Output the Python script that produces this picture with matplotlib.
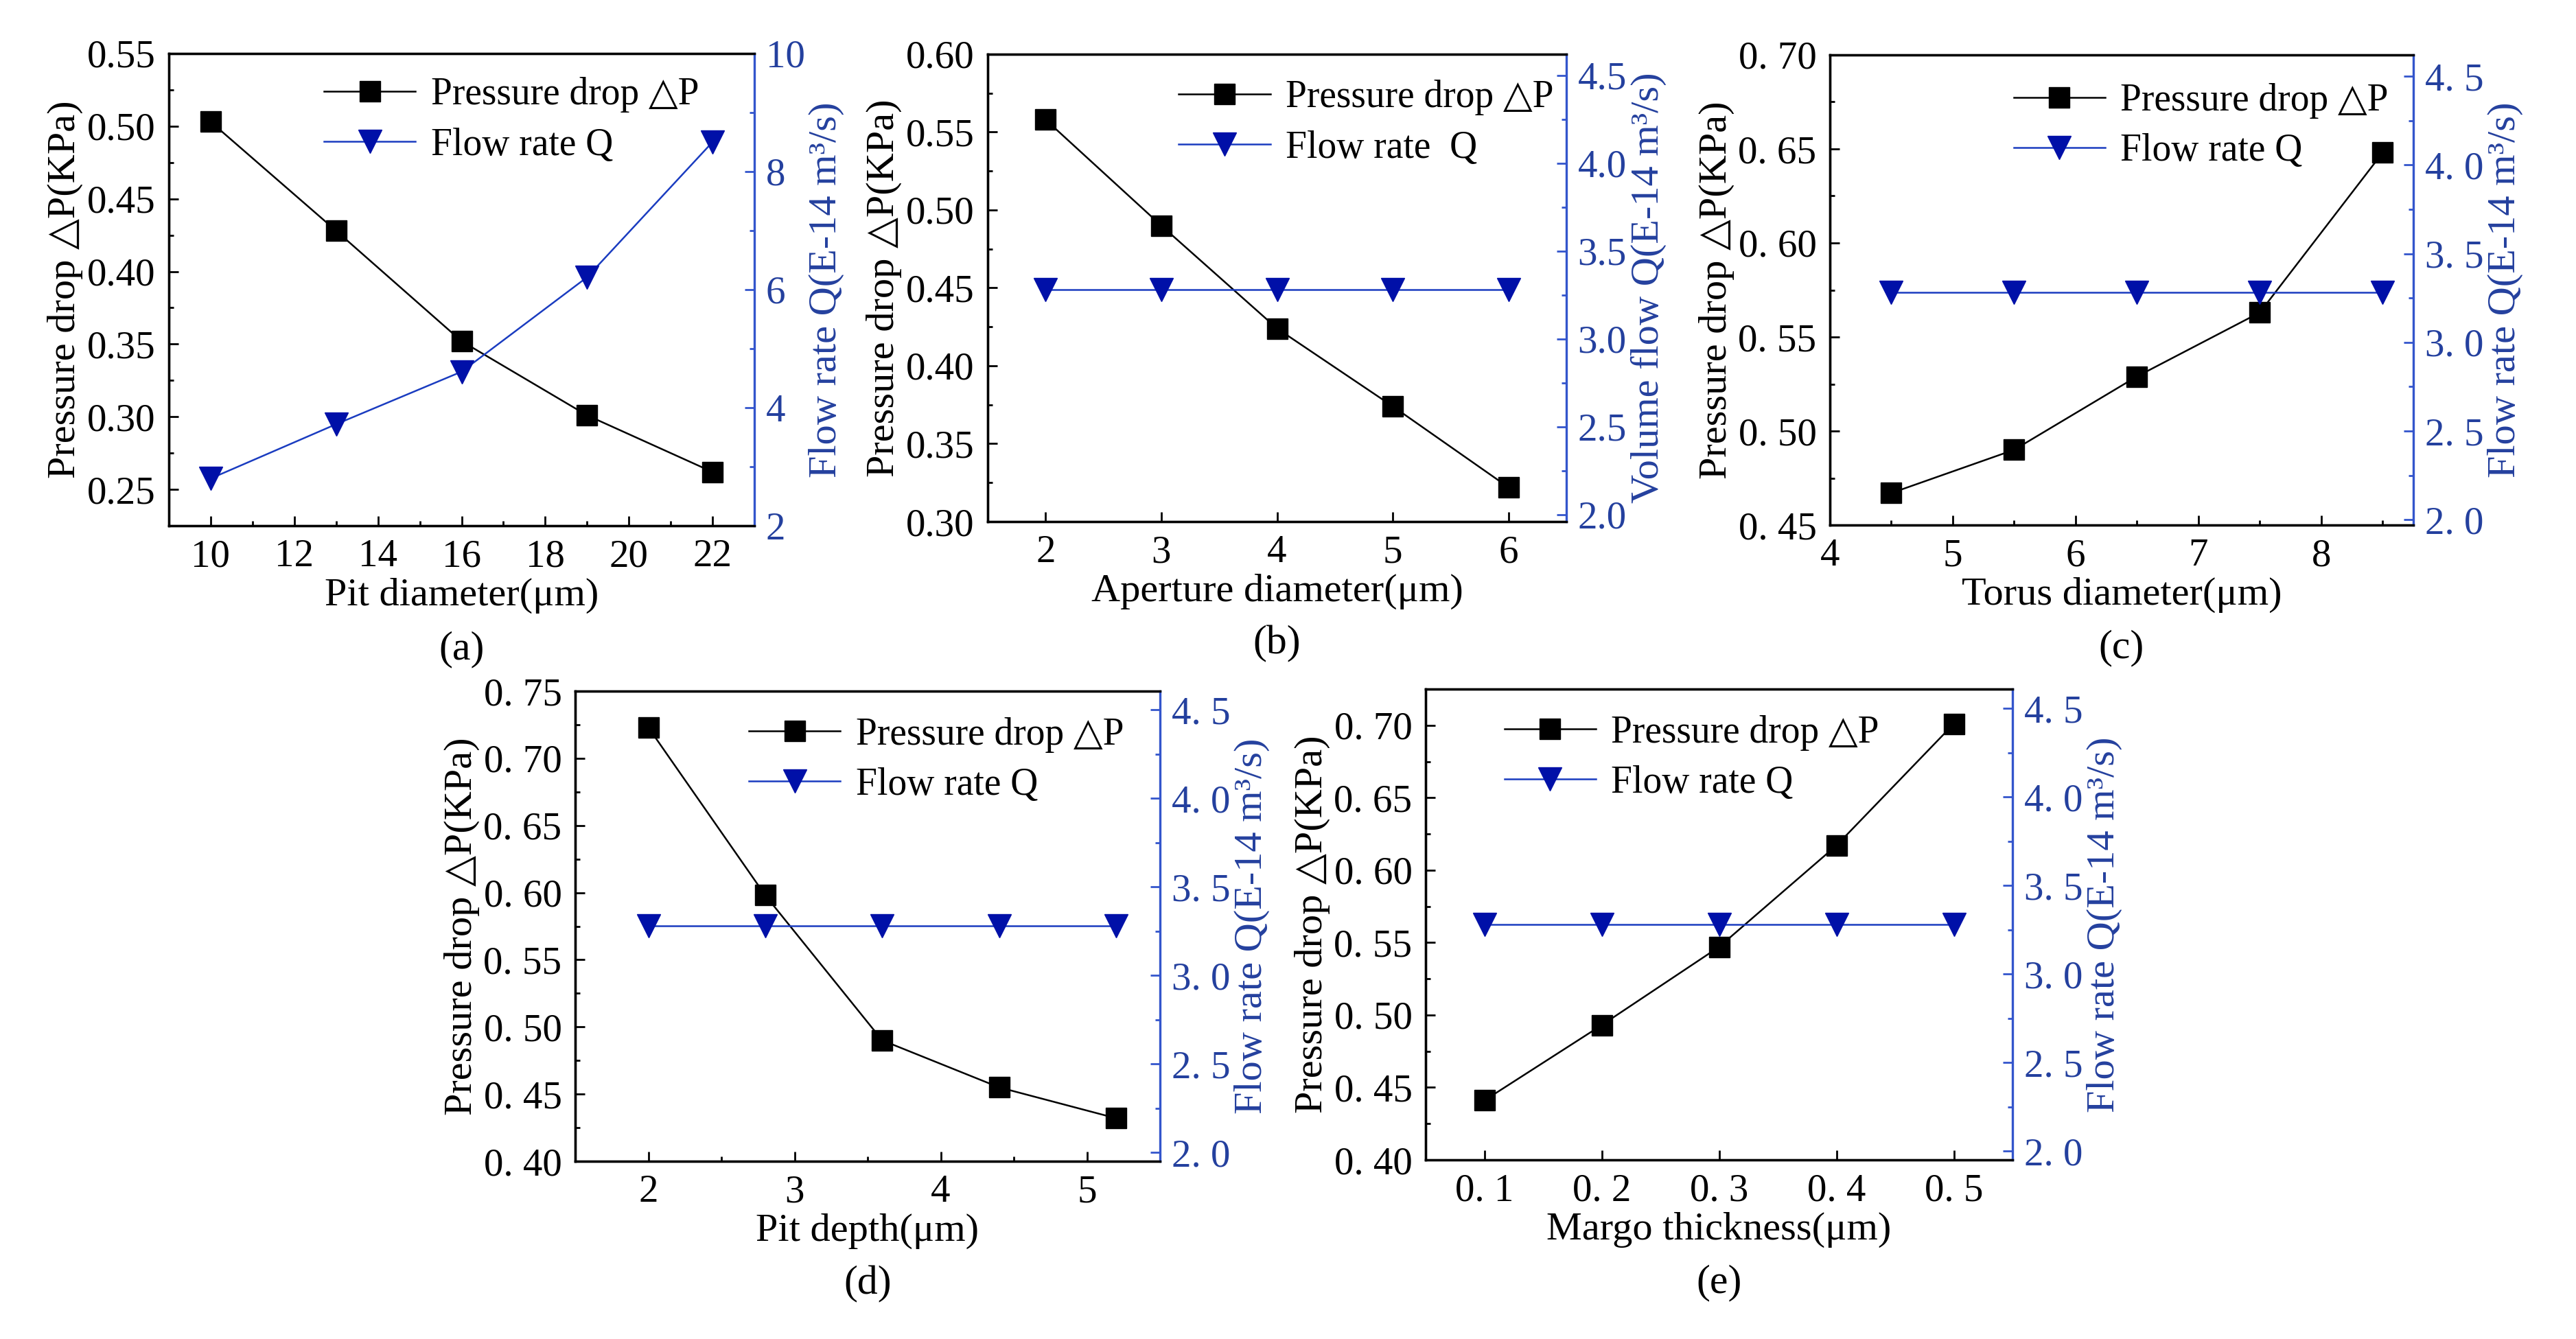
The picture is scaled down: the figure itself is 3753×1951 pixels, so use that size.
import matplotlib as mpl
mpl.use('Agg')
import matplotlib.pyplot as plt
from matplotlib.ticker import MultipleLocator, FuncFormatter

plt.rcParams['font.family'] = ['Liberation Serif', 'DejaVu Sans']
plt.rcParams['font.size'] = 41
plt.rcParams['axes.linewidth'] = 2.4

# (a) pit diameter
pit_diameter = [10, 13, 16, 19, 22]
dp_pit_diameter = [0.503, 0.428, 0.352, 0.301, 0.262]
q_pit_diameter = [2.80, 3.72, 4.61, 6.21, 8.50]
# (b) aperture diameter
aperture_diameter = [2, 3, 4, 5, 6]
dp_aperture = [0.558, 0.490, 0.424, 0.374, 0.322]
q_aperture = [3.28, 3.28, 3.28, 3.28, 3.28]
# (c) torus diameter
torus_diameter = [4.5, 5.5, 6.5, 7.5, 8.5]
dp_torus = [0.467, 0.490, 0.529, 0.563, 0.648]
q_torus = [3.28, 3.28, 3.28, 3.28, 3.28]
# (d) pit depth
pit_depth = [2.0, 2.8, 3.6, 4.4, 5.2]
dp_pit_depth = [0.723, 0.598, 0.490, 0.455, 0.432]
q_pit_depth = [3.28, 3.28, 3.28, 3.28, 3.28]
# (e) margo thickness
margo_thickness = [0.1, 0.2, 0.3, 0.4, 0.5]
dp_margo = [0.441, 0.493, 0.547, 0.617, 0.701]
q_margo = [3.28, 3.28, 3.28, 3.28, 3.28]

BLUE_LINE = '#1a3cc0'
BLUE_MARK = '#0010a8'
BLUE_AXIS = '#3355cc'
BLUE_TEXT = '#24409e'


def fmt(f, spaced=False):
    if spaced:
        return FuncFormatter(lambda v, p: (f % v).replace('.', '. '))
    return FuncFormatter(lambda v, p: f % v)


def draw_panel(fig, rect, x, dp, q, xlabel, qlabel, tag, xlim, xmaj, xmin,
               ylim, ymaj, ymin, qlim, qmaj, qmin, xf, yf, qf, spaced,
               leg_anchor, q_legend='Flow rate Q'):
    ax = fig.add_axes(rect)
    ax2 = ax.twinx()
    l1, = ax.plot(x, dp, color='black', lw=1.8, marker='s', ms=21,
                  label='Pressure drop △P')
    l2, = ax2.plot(x, q, color=BLUE_LINE, lw=1.8, marker='v', ms=24,
                   mfc=BLUE_MARK, mec=BLUE_MARK, label=q_legend)
    ax.set_xlim(xlim)
    ax.set_ylim(ylim)
    ax2.set_ylim(qlim)
    ax.xaxis.set_major_locator(MultipleLocator(xmaj))
    if xmin:
        ax.xaxis.set_minor_locator(MultipleLocator(xmin))
    ax.yaxis.set_major_locator(MultipleLocator(ymaj))
    ax.yaxis.set_minor_locator(MultipleLocator(ymin))
    ax2.yaxis.set_major_locator(MultipleLocator(qmaj))
    ax2.yaxis.set_minor_locator(MultipleLocator(qmin))
    ax.xaxis.set_major_formatter(fmt(xf, spaced and xf != '%d'))
    ax.yaxis.set_major_formatter(fmt(yf, spaced))
    ax2.yaxis.set_major_formatter(fmt(qf, spaced))

    ax.tick_params(which='both', direction='in', top=False, right=False, width=2)
    ax.tick_params(which='major', length=10, pad=14)
    ax.tick_params(which='minor', length=5)
    ax2.tick_params(which='both', direction='in', colors=BLUE_AXIS, width=2,
                    labelcolor=BLUE_TEXT)
    ax2.tick_params(which='major', length=10, pad=12)
    ax2.tick_params(which='minor', length=5)
    ax.spines['right'].set_visible(False)
    ax2.spines['right'].set_color(BLUE_AXIS)
    ax2.spines['right'].set_linewidth(2.4)

    ax.set_xlabel(xlabel, labelpad=3, fontsize=42)
    ax.set_ylabel('Pressure drop △P(KPa)', labelpad=4, fontsize=42)
    ax2.set_ylabel(qlabel, color=BLUE_TEXT, labelpad=4, fontsize=42)

    ax.legend([l1, l2], [l1.get_label(), l2.get_label()], frameon=False,
              loc='upper left', bbox_to_anchor=leg_anchor, borderpad=0,
              borderaxespad=0, handlelength=2.4, handletextpad=0.4,
              labelspacing=0.38, numpoints=1, fontsize=40)
    ax.text(0.5, -0.262, tag, transform=ax.transAxes, ha='center', va='center',
            fontsize=43)
    return ax


fig = plt.figure(figsize=(37.53, 19.51), dpi=100)
W, H = 3753.0, 1951.0


def rect(left, right, top, bottom):
    return [left / W, 1 - bottom / H, (right - left) / W, (bottom - top) / H]


draw_panel(fig, rect(246, 1099, 78, 766), pit_diameter, dp_pit_diameter,
           q_pit_diameter, 'Pit diameter(μm)', 'Flow rate Q(E-14 m³/s)', '(a)',
           (9, 23), 2, 1, (0.225, 0.55), 0.05, 0.025, (2, 10), 2, 1,
           '%d', '%.2f', '%d', False, (0.265, 0.95))

draw_panel(fig, rect(1439, 2282, 79, 760), aperture_diameter, dp_aperture,
           q_aperture, 'Aperture diameter(μm)', 'Volume flow Q(E-14 m³/s)', '(b)',
           (1.5, 6.5), 1, None, (0.30, 0.60), 0.05, 0.025, (1.96, 4.62), 0.5, 0.25,
           '%d', '%.2f', '%.1f', False, (0.33, 0.945), q_legend='Flow rate  Q')

draw_panel(fig, rect(2666, 3516, 80, 765), torus_diameter, dp_torus,
           q_torus, 'Torus diameter(μm)', 'Flow rate Q(E-14 m³/s)', '(c)',
           (4, 8.75), 1, 0.5, (0.45, 0.70), 0.05, 0.025, (1.97, 4.62), 0.5, 0.25,
           '%d', '%.2f', '%.1f', True, (0.315, 0.94))

draw_panel(fig, rect(838, 1690, 1007, 1692), pit_depth, dp_pit_depth,
           q_pit_depth, 'Pit depth(μm)', 'Flow rate Q(E-14 m³/s)', '(d)',
           (1.5, 5.5), 1, 0.5, (0.40, 0.75), 0.05, 0.025, (1.95, 4.605), 0.5, 0.25,
           '%d', '%.2f', '%.1f', True, (0.297, 0.945))

draw_panel(fig, rect(2077, 2932, 1004, 1690), margo_thickness, dp_margo,
           q_margo, 'Margo thickness(μm)', 'Flow rate Q(E-14 m³/s)', '(e)',
           (0.05, 0.55), 0.1, None, (0.40, 0.725), 0.05, 0.025, (1.95, 4.61), 0.5, 0.25,
           '%.1f', '%.2f', '%.1f', True, (0.134, 0.945))

fig.savefig('out.png', dpi=100)
